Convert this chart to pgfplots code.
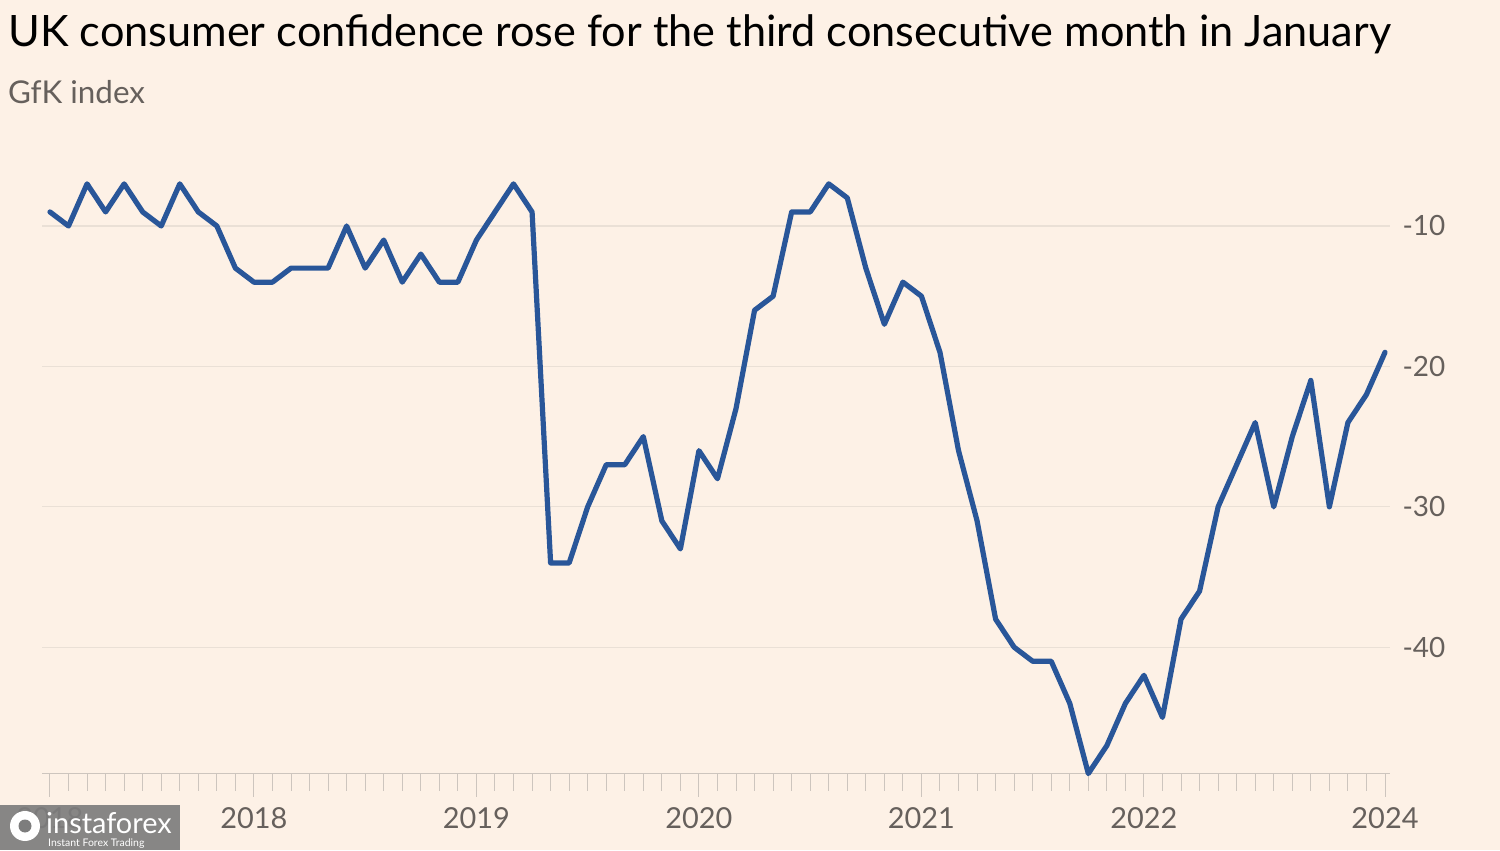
\documentclass[border=0pt]{standalone}
\usepackage{fontspec}
\setmainfont{Lato}
\usepackage{pgfplots}
\pgfplotsset{compat=1.18}
\definecolor{bg}{RGB}{253,241,230}
\definecolor{ftblue}{RGB}{41,86,153}
\definecolor{gridc}{RGB}{234,224,214}
\definecolor{axc}{RGB}{205,197,190}
\definecolor{txtgray}{RGB}{102,96,92}
\definecolor{wmgray}{RGB}{125,125,125}
\begin{document}
\begin{tikzpicture}[x=1bp,y=1bp]
\fill[bg] (0,0) rectangle (1500,850);
\node[anchor=base west, inner sep=0pt, font=\fontsize{43.4}{48}\selectfont] at (8,803) {UK consumer confidence rose for the third consecutive month in January};
\node[anchor=base west, inner sep=0pt, text=txtgray, font=\fontsize{31.5}{34}\selectfont] at (8,746) {GfK index};
\begin{axis}[
  at={(42bp,76.4bp)}, anchor=south west, scale only axis,
  width=1348bp, height=617.8bp,
  xmin=-0.43, xmax=72.27, ymin=-49, ymax=-5, clip=false,
  axis x line*=bottom, axis y line*=right,
  y axis line style={draw=none},
  x axis line style={draw=axc, line width=1bp},
  ytick={-40,-30,-20,-10}, yticklabels={-40,-30,-20,-10},
  ytick style={draw=none},
  ymajorgrids, major grid style={draw=gridc, line width=1.3bp},
  xtick={0,11,23,35,47,59,72},
  xticklabels={2018,2018,2019,2020,2021,2022,2024},
  minor xtick={0,...,72},
  tick align=outside, major tick length=23bp, minor tick length=17bp,
  xtick style={draw=axc, line width=1bp},
  yticklabel style={anchor=west, xshift=-14bp, text=txtgray, font=\fontsize{28}{30}\selectfont},
  xticklabel style={anchor=north, yshift=-7bp, text=txtgray, font=\fontsize{29}{30}\selectfont},
]
\addplot[ftblue, line width=5.2bp, line join=round, line cap=round] coordinates {
(0,-9) (1,-10) (2,-7) (3,-9) (4,-7) (5,-9) (6,-10) (7,-7) (8,-9) (9,-10)
(10,-13) (11,-14) (12,-14) (13,-13) (14,-13) (15,-13) (16,-10) (17,-13) (18,-11) (19,-14)
(20,-12) (21,-14) (22,-14) (23,-11) (24,-9) (25,-7) (26,-9) (27,-34) (28,-34) (29,-30)
(30,-27) (31,-27) (32,-25) (33,-31) (34,-33) (35,-26) (36,-28) (37,-23) (38,-16) (39,-15)
(40,-9) (41,-9) (42,-7) (43,-8) (44,-13) (45,-17) (46,-14) (47,-15) (48,-19) (49,-26)
(50,-31) (51,-38) (52,-40) (53,-41) (54,-41) (55,-44) (56,-49) (57,-47) (58,-44) (59,-42)
(60,-45) (61,-38) (62,-36) (63,-30) (64,-27) (65,-24) (66,-30) (67,-25) (68,-21) (69,-30)
(70,-24) (71,-22) (72,-19)
};
\end{axis}
\fill[wmgray, opacity=0.92] (0,0) rectangle (180,45);
\fill[white] (25,24) circle (15);
\fill[wmgray] (25,24) circle (6.5);
\node[anchor=base west, inner sep=0pt, text=white, font=\fontsize{29}{30}\selectfont] at (46,17) {instaforex};
\node[anchor=base west, inner sep=0pt, text=white, font=\fontsize{10.5}{12}\selectfont] at (48,4) {Instant Forex Trading};
\end{tikzpicture}
\end{document}
